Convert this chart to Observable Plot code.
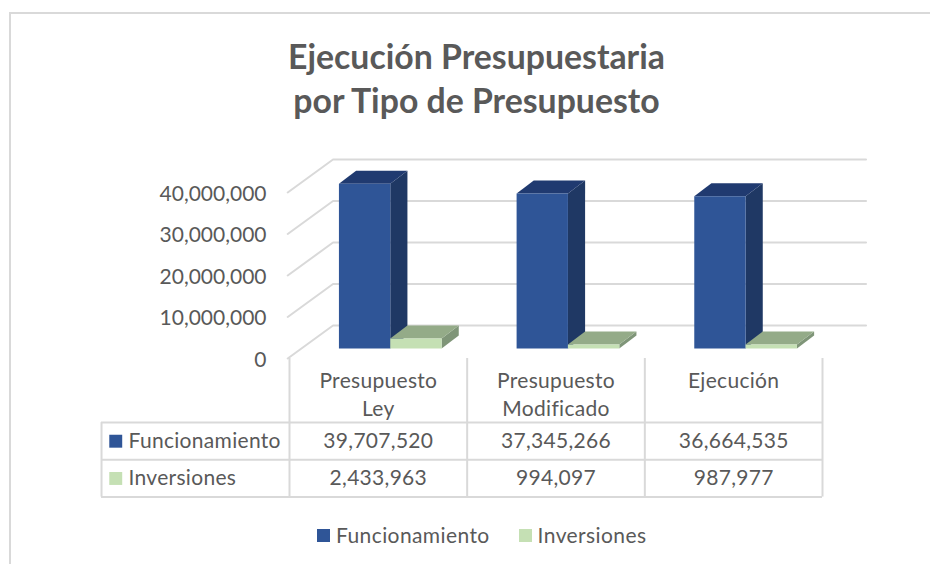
<!DOCTYPE html>
<html>
<head>
<meta charset="utf-8">
<script src="https://cdn.jsdelivr.net/npm/d3@7"></script>
<script src="https://cdn.jsdelivr.net/npm/@observablehq/plot@0.6"></script>
<style>
  html, body { margin: 0; background: #fff; }
  #page { position: relative; width: 930px; height: 564px; overflow: hidden; font-family: Lato, sans-serif; color: #595959; }
  #frame { position: absolute; left: 9px; top: 12px; right: 0; bottom: 0; border-left: 2px solid #d9d9d9; border-top: 2px solid #d9d9d9; pointer-events: none; }
  #title { position: relative; height: 140px; box-sizing: border-box; padding-top: 34px; padding-left: 23px; text-align: center; font-size: 33.8px; line-height: 44px; font-weight: 700; }
  #chart svg, #table svg { display: block; background: transparent; overflow: visible; }
  #table { margin-top: -14px; position: relative; }
  #legend { position: absolute; top: 521px; left: 317px; display: flex; align-items: center; font-size: 21px; line-height: 28px; letter-spacing: .4px; }
  #legend i { display: inline-block; width: 13px; height: 13px; margin-right: 6px; }
  #legend span { display: flex; align-items: center; margin-right: 29px; }
</style>
</head>
<body>
<div id="page">
  <div id="frame"></div>
  <div id="title">Ejecución Presupuestaria<br>por Tipo de Presupuesto</div>
  <div id="chart"></div>
  <div id="table"></div>
  <div id="legend"></div>
</div>
<script>
const categories = ["Presupuesto\nLey", "Presupuesto\nModificado", "Ejecución"];
const seriesNames = ["Funcionamiento", "Inversiones"];
const funcionamiento = [39707520, 37345266, 36664535];
const inversiones = [2433963, 994097, 987977];
const yTicks = [0, 10000000, 20000000, 30000000, 40000000];

const palette = {
  Funcionamiento: {front: "#2F5597", side: "#1F3864", top: "#203A70"},
  Inversiones: {front: "#C5E0B4", side: "#7F9578", top: "#94AB88"}
};
const FONT = "Lato, sans-serif", INK = "#595959", GRID = "#d9d9d9";
const fmt = d3.format(",");

// Oblique projection, expressed in scale units (category slots, budget value)
const DEPTH_X = 0.245, DEPTH_Y = 7950000;
const project = (slot, value, depth) => ({x: slot + depth * DEPTH_X, y: value + depth * DEPTH_Y});
const BAR_NEAR = 0.303, BAR_FAR = 0.697, BAR_START = 0.204, BAR_WIDTH = 0.289;

const gridPaths = yTicks.flatMap(v => [
  {...project(-0.01, v, 0), id: v},
  {...project(0, v, 1), id: v},
  {...project(3, v, 1), id: v}
]);

const faces = [];
[funcionamiento, inversiones].forEach((values, s) => {
  const colors = palette[seriesNames[s]];
  values.forEach((v, i) => {
    const a = i + BAR_START + s * BAR_WIDTH, b = a + BAR_WIDTH;
    const add = (face, pts) => pts.forEach(([sl, val, d]) =>
      faces.push({...project(sl, val, d), id: `${s}-${i}-${face}`, fill: colors[face]}));
    add("side", [[b, 0, BAR_NEAR], [b, 0, BAR_FAR], [b, v, BAR_FAR], [b, v, BAR_NEAR]]);
    add("top", [[a, v, BAR_NEAR], [b, v, BAR_NEAR], [b, v, BAR_FAR], [a, v, BAR_FAR]]);
    add("front", [[a, 0, BAR_NEAR], [b, 0, BAR_NEAR], [b, v, BAR_NEAR], [a, v, BAR_NEAR]]);
  });
});

document.getElementById("chart").append(Plot.plot({
  width: 930, height: 232,
  marginLeft: 289, marginRight: 108, marginTop: 52, marginBottom: 14,
  x: {domain: [0, 3], axis: null},
  y: {domain: [0, 40000000]},
  style: {fontFamily: FONT, fontSize: "21px", color: INK, background: "transparent"},
  marks: [
    Plot.line(gridPaths, {x: "x", y: "y", z: "id", stroke: GRID, strokeWidth: 2, curve: "linear"}),
    Plot.line(faces, {x: "x", y: "y", z: "id", fill: "fill", stroke: "none", curve: "linear"}),
    Plot.axisY({ticks: yTicks, tickFormat: fmt, tickSize: 0, tickPadding: 23, dy: 1.5, label: null, fill: INK})
  ]
}));

// Data table under the chart: x in category slots, y in row units
const KEY_LEFT = -1.058;
const headerEnd = 1.72;
const rowLines = [headerEnd, headerEnd + 1, headerEnd + 2];
const colLines = [0, 1, 2, 3];
const valueRows = [funcionamiento, inversiones].flatMap((vals, s) =>
  vals.map((v, i) => ({slot: i + 0.5, row: headerEnd + s + 0.5, label: fmt(v)})));
const keyRows = seriesNames.map((name, s) => ({name, row: headerEnd + s + 0.5, color: palette[name].front}));
const headerRows = categories.map((c, i) => ({slot: i + 0.5, label: c}));

document.getElementById("table").append(Plot.plot({
  width: 930, height: 140,
  marginLeft: 289, marginRight: 108, marginTop: 0, marginBottom: 1.4,
  x: {domain: [0, 3], axis: null},
  y: {domain: [headerEnd + 2, 0], axis: null},
  style: {fontFamily: FONT, fontSize: "21px", color: INK, background: "transparent", letterSpacing: "0.3px"},
  marks: [
    Plot.ruleY(rowLines, {x1: KEY_LEFT, x2: 3, stroke: GRID, strokeWidth: 2}),
    Plot.ruleX(colLines, {y1: 0, y2: headerEnd + 2, stroke: GRID, strokeWidth: 2}),
    Plot.ruleX([KEY_LEFT], {y1: headerEnd, y2: headerEnd + 2, stroke: GRID, strokeWidth: 2}),
    Plot.text(headerRows, {x: "slot", y: () => 0.25, text: "label", lineAnchor: "top", lineHeight: 1.33, fill: INK}),
    Plot.text(valueRows, {x: "slot", y: "row", text: "label", fill: INK}),
    Plot.dot(keyRows, {x: () => KEY_LEFT + 0.08, y: "row", symbol: "square", r: 7.3, fill: "color", stroke: "none"}),
    Plot.text(keyRows, {x: () => KEY_LEFT + 0.152, y: "row", text: "name", textAnchor: "start", fill: INK})
  ]
}));

const legend = document.getElementById("legend");
seriesNames.forEach(name => {
  const item = document.createElement("span");
  const swatch = document.createElement("i");
  swatch.style.background = palette[name].front;
  item.append(swatch, name);
  legend.append(item);
});
</script>
</body>
</html>
